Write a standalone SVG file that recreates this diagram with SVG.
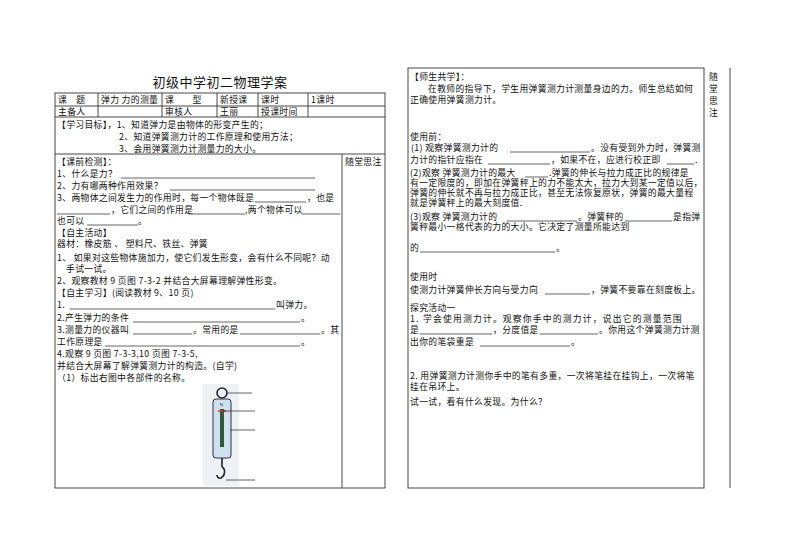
<svg xmlns="http://www.w3.org/2000/svg" width="794" height="560" viewBox="0 0 794 560">
<style>
text{font-family:"Noto Sans CJK SC","Liberation Sans",sans-serif;font-size:8.8px;letter-spacing:0.35px;fill:#111}
.t{font-size:13px;letter-spacing:0.5px}
.b{stroke:#333;stroke-width:0.9;fill:none}
.u{stroke:#222;stroke-width:0.7}
</style>
<rect width="794" height="560" fill="#fff"/>
<g id="left-sheet">
<text class="t" x="220" y="87" text-anchor="middle">初级中学初二物理学案</text>
<rect class="b" x="55" y="93" width="330" height="395"/>
<line class="b" x1="55" y1="106" x2="385" y2="106"/>
<line class="b" x1="55" y1="117" x2="385" y2="117"/>
<line class="b" x1="55" y1="154" x2="385" y2="154"/>
<path class="b" d="M98 93V117M162 93V117M217 93V117M258 93V117M308 93V117M342 154V488"/>
<text x="58" y="103">课　题</text><text x="101" y="103">弹力 力的测量</text><text x="165" y="103">课　　型</text><text x="220" y="103">新授课</text><text x="261" y="103">课时</text><text x="311" y="103">1课时</text>
<text x="58" y="115">主备人</text><text x="165" y="115">审核人</text><text x="220" y="115">王丽</text><text x="261" y="115">授课时间</text>
<text x="57" y="128">【学习目标】，1、知道弹力是由物体的形变产生的；</text>
<text x="119" y="140">2、知道弹簧测力计的工作原理和使用方法；</text>
<text x="119" y="152">3、会用弹簧测力计测量力的大小。</text>
<text x="345" y="165">随堂思注</text>
<text x="57" y="165">【课前检测】：</text>
<text x="57" y="177">1、什么是力？</text><line class="u" x1="121" y1="178" x2="315" y2="178"/>
<text x="57" y="189">2、力有哪两种作用效果？</text><line class="u" x1="170" y1="190" x2="315" y2="190"/>
<text x="57" y="201">3、两物体之间发生力的作用时，每一个物体既是</text><line class="u" x1="255" y1="202" x2="306" y2="202"/><text x="307" y="201">，也是</text>
<line class="u" x1="57" y1="214" x2="110" y2="214"/><text x="111" y="213">，它们之间的作用是</text><line class="u" x1="189" y1="214" x2="245" y2="214"/><text x="245" y="213">,两个物体可以</text><line class="u" x1="302" y1="214" x2="340" y2="214"/>
<text x="57" y="224">也可以</text><line class="u" x1="87" y1="225" x2="138" y2="225"/><text x="138" y="224">。</text>
<text x="57" y="236">【自主活动】</text>
<text x="57" y="247">器材：橡皮筋 、 塑料尺、铁丝、弹簧</text>
<text x="57" y="261">1、 如果对这些物体施加力，使它们发生形变，会有什么不同呢？动</text>
<text x="66" y="272">手试一试。</text>
<text x="57" y="284">2、观察教材 9 页图 7-3-2 并结合大屏幕理解弹性形变。</text>
<text x="57" y="296">【自主学习】(阅读教材 9、10 页)</text>
<text x="57" y="308">1.</text><line class="u" x1="70" y1="309" x2="275" y2="309"/><text x="276" y="308">叫弹力。</text>
<text x="57" y="321">2.产生弹力的条件</text><line class="u" x1="133" y1="322" x2="300" y2="322"/><text x="301" y="321">。</text>
<text x="57" y="333">3.测量力的仪器叫</text><line class="u" x1="133" y1="334" x2="192" y2="334"/><text x="193" y="333">。常用的是</text><line class="u" x1="240" y1="334" x2="320" y2="334"/><text x="321" y="333">。其</text>
<text x="57" y="345">工作原理是</text><line class="u" x1="105" y1="346" x2="300" y2="346"/><text x="301" y="345">。</text>
<text x="57" y="357">4.观察 9 页图 7-3-3,10 页图 7-3-5,</text>
<text x="57" y="369">并结合大屏幕了解弹簧测力计的构造。(自学)</text>
<text x="57" y="381">（1）标出右图中各部件的名称。</text>
</g>
<g id="spring-scale">
<rect x="203" y="384" width="36" height="102" fill="#eef1f4"/>
<circle cx="222" cy="393" r="5" fill="none" stroke="#223" stroke-width="1.6"/>
<rect x="213" y="399" width="18" height="59" rx="3" fill="#cfe0ee" stroke="#334" stroke-width="1"/>
<rect x="220" y="409" width="4" height="38" fill="#2c5a3a"/>
<line x1="218" y1="411" x2="226" y2="411" stroke="#d33" stroke-width="1.5"/>
<text x="220" y="406" style="font-size:4px;letter-spacing:0;font-family:'Liberation Sans',sans-serif">N</text>
<path d="M222 458V467M222 467c4 2 3 9-1 11c-3 1-4-2-4-3" fill="none" stroke="#223" stroke-width="1.6"/>
<path class="u" d="M228 393H252M223 411H255M230 430H255M226 480H255"/>
</g>
<g id="right-sheet">
<rect class="b" x="408" y="68" width="296" height="420"/>
<line class="b" x1="730" y1="68" x2="730" y2="488"/>
<text x="709" y="80">随</text><text x="709" y="92">堂</text><text x="709" y="104">思</text><text x="709" y="116">注</text>
<text x="410" y="80">【师生共学】：</text>
<text x="428" y="92">在教师的指导下，学生用弹簧测力计测量身边的力。师生总结如何</text>
<text x="410" y="103">正确使用弹簧测力计。</text>
<text x="410" y="140">使用前：</text>
<text x="411" y="151">(1) 观察弹簧测力计的</text><line class="u" x1="510" y1="152" x2="590" y2="152"/><text x="591" y="151">。没有受到外力时，弹簧测</text>
<text x="410" y="163">力计的指针应指在</text><line class="u" x1="488" y1="164" x2="550" y2="164"/><text x="551" y="163">，如果不在，应进行校正即</text><line class="u" x1="667" y1="164" x2="694" y2="164"/><text x="695" y="163">.</text>
<text x="410" y="176">(2)观察 弹簧测力计的最大</text><line class="u" x1="525" y1="177" x2="548" y2="177"/><text x="549" y="176">.弹簧的伸长与拉力成正比的规律是</text>
<text x="410" y="186">有一定限度的，即加在弹簧秤上的力不能太大，拉力大到某一定值以后，</text>
<text x="410" y="196">弹簧的伸长就不再与拉力成正比，甚至无法恢复原状，弹簧的最大量程</text>
<text x="410" y="206">就是弹簧秤上的最大刻度值.</text>
<text x="410" y="220">(3)观察 弹簧测力计的</text><line class="u" x1="507" y1="221" x2="577" y2="221"/><text x="578" y="220">。弹簧秤的</text><line class="u" x1="625" y1="221" x2="672" y2="221"/><text x="673" y="220">是指弹</text>
<text x="410" y="230">簧秤最小一格代表的力的大小。它决定了测量所能达到</text>
<text x="410" y="251">的</text><line class="u" x1="420" y1="252" x2="555" y2="252"/><text x="556" y="251">。</text>
<text x="410" y="280">使用时</text>
<text x="410" y="293">使测力计弹簧伸长方向与受力向</text><line class="u" x1="545" y1="294" x2="590" y2="294"/><text x="591" y="293">，弹簧不要靠在刻度板上。</text>
<text x="410" y="311">探究活动一</text>
<text x="410" y="322" style="letter-spacing:1.2px">1. 学会使用测力计。观察你手中的测力计，说出它的测量范围</text>
<text x="410" y="333">是</text><line class="u" x1="420" y1="334" x2="492" y2="334"/><text x="493" y="333">，分度值是</text><line class="u" x1="540" y1="334" x2="598" y2="334"/><text x="599" y="333">。你用这个弹簧测力计测</text>
<text x="410" y="345">出你的笔袋重是</text><line class="u" x1="480" y1="346" x2="570" y2="346"/><text x="571" y="345">。</text>
<text x="410" y="379">2. 用弹簧测力计测你手中的笔有多重，一次将笔挂在挂钩上，一次将笔</text>
<text x="410" y="390">挂在吊环上。</text>
<text x="410" y="405">试一试，看有什么发现。为什么？</text>
</g>
</svg>
